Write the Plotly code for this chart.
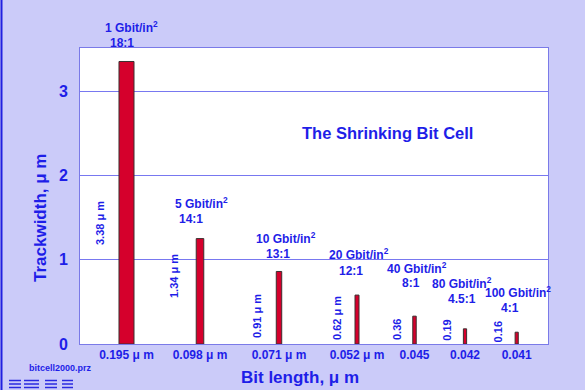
import plotly.graph_objects as go

# ---- data ----
bit_length = [0.195, 0.098, 0.071, 0.052, 0.045, 0.042, 0.041]
tick_labels = ["0.195 μ m", "0.098 μ m", "0.071 μ m", "0.052 μ m", "0.045", "0.042", "0.041"]
trackwidth = [3.35, 1.25, 0.86, 0.58, 0.33, 0.18, 0.14]
value_labels = ["3.38 μ m", "1.34 μ m", "0.91 μ m", "0.62 μ m", "0.36", "0.19", "0.16"]
density = ["1", "5", "10", "20", "40", "80", "100"]
ratio = ["18:1", "14:1", "13:1", "12:1", "8:1", "4.5:1", "4:1"]

# ---- layout constants (pixel geometry of the reference) ----
W, H = 585, 390
PLOT_L, PLOT_R, PLOT_T, PLOT_B = 80, 548, 48, 344
PX_PER_UNIT = 84.33
bar_pos = [126.5, 200, 279, 357, 414.5, 465, 516.7]   # x axis is in pixel units
WIDTH_SCALE = 77  # bar width in px per μm of bit length
dens_pos = [(131, 27), (201, 203), (285.5, 238), (359, 254), (417, 267.7), (462, 282.7), (518, 291.7)]
ratio_pos = [(122, 43), (191, 219), (277.5, 254), (351, 270.7), (411, 283), (461.7, 299), (509.5, 308)]
val_pos = [(100, 223), (174, 276), (257, 316), (337, 318), (397, 330), (446.7, 330), (497.7, 331.7)]

BLUE = "#1e1ee8"
BG = "#cbcbf9"
FONT = "Arial, Liberation Sans, sans-serif"


def px(x):
    return (x - PLOT_L) / (PLOT_R - PLOT_L)


def py(y):
    return (PLOT_B - y) / (PLOT_B - PLOT_T)


def label(x, y, text, size, angle=0):
    return dict(x=px(x), y=py(y), xref="paper", yref="paper", text=text, showarrow=False,
                textangle=angle, xanchor="center", yanchor="middle",
                font=dict(family=FONT, size=size, color=BLUE))


fig = go.Figure()
fig.add_trace(go.Bar(
    x=bar_pos, y=trackwidth,
    width=[b * WIDTH_SCALE for b in bit_length],
    marker=dict(color="#d5002c", line=dict(color="#3c3030", width=1)),
    hoverinfo="skip",
))

ann = []
for i in range(len(density)):
    ann.append(label(*dens_pos[i], f"<b>{density[i]} Gbit/in<sup>2</sup></b>", 12))
    ann.append(label(*ratio_pos[i], f"<b>{ratio[i]}</b>", 12))
    ann.append(label(*val_pos[i], f"<b>{value_labels[i]}</b>", 11, -90))

ann.append(label(387, 133, "<b>The Shrinking Bit Cell</b>", 16.5))
ann.append(label(60, 368, "<b>bitcell2000.prz</b>", 9))
ann.append(label(40, 218, "<b>Trackwidth, μ m</b>", 17, -90))
ann.append(label(300, 377, "<b>Bit length, μ m</b>", 17))

shapes = []
# left blue border of the slide
shapes.append(dict(type="line", xref="paper", yref="paper",
                   x0=px(1.5), x1=px(1.5), y0=py(0), y1=py(H),
                   line=dict(color="#2020e0", width=2)))
# striped logo
for (xa, xb) in [(9, 21), (24, 39), (45, 57), (62, 73)]:
    for yy in [380.5, 384, 387.5]:
        shapes.append(dict(type="line", xref="paper", yref="paper",
                           x0=px(xa), x1=px(xb), y0=py(yy), y1=py(yy),
                           line=dict(color="#2a2ae0", width=1.5)))

fig.update_layout(
    width=W, height=H,
    margin=dict(l=PLOT_L, r=W - PLOT_R, t=PLOT_T, b=H - PLOT_B, pad=0, autoexpand=False),
    paper_bgcolor=BG, plot_bgcolor="white",
    showlegend=False,
    font=dict(family=FONT, color=BLUE),
    annotations=ann, shapes=shapes,
    xaxis=dict(range=[PLOT_L, PLOT_R], tickvals=bar_pos, ticktext=[f"<b>{t}</b>" for t in tick_labels],
               tickfont=dict(size=12, color=BLUE, family=FONT), showgrid=False, zeroline=False,
               ticks="", automargin=False,
               showline=True, linecolor="#7a7ae8", linewidth=1, mirror=True),
    yaxis=dict(range=[0, (PLOT_B - PLOT_T) / PX_PER_UNIT], tickvals=[0, 1, 2, 3],
               ticktext=["<b>0</b>", "<b>1</b>", "<b>2</b>", "<b>3</b>"],
               tickfont=dict(size=16, color=BLUE, family=FONT), automargin=False,
               showgrid=True, gridcolor="#7878f0", gridwidth=1, zeroline=False,
               ticks="outside", ticklen=8, tickcolor="rgba(0,0,0,0)",
               showline=True, linecolor="#7a7ae8", linewidth=1, mirror=True),
)

fig.write_html("out.html", config={"displayModeBar": False},
               post_script="document.body.style.margin='0';document.body.style.background='%s';" % BG)
